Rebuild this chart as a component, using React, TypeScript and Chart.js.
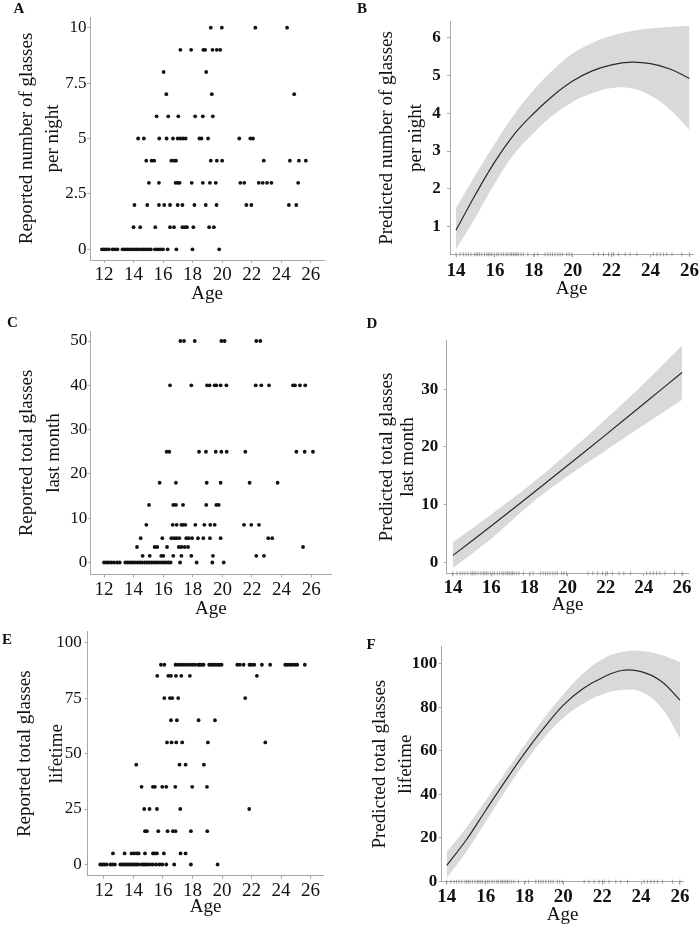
import React, { useEffect, useRef } from 'react';
import { Chart, registerables } from 'chart.js';
Chart.register(...registerables);

const FONT = "'Liberation Serif', 'Times New Roman', serif";
const INK = '#111111';
const AXIS = '#a8a8a8';
const BAND = '#d9d9d9';

// ---------- Panel A: reported glasses per night ----------
const A_LEVELS = [0, 1, 2, 3, 4, 5, 6, 7, 8, 9, 10];
const A_AGES = [
  [11.86, 12.0, 12.16, 12.32, 12.57, 12.73, 12.91, 13.25, 13.41, 13.56, 13.72, 13.88, 14.04, 14.2, 14.36, 14.54, 14.7, 14.86, 15.02, 15.17, 15.45, 15.63, 15.81, 15.99, 16.31, 16.9, 17.99, 19.8],
  [14.0, 14.45, 15.47, 16.47, 16.74, 17.31, 17.49, 17.62, 18.05, 19.12, 19.44],
  [14.06, 14.93, 15.72, 16.08, 16.47, 16.99, 17.31, 18.12, 18.89, 19.62, 21.64, 21.98, 24.52, 25.02],
  [15.04, 15.72, 16.85, 16.99, 17.12, 17.94, 18.69, 19.17, 19.57, 21.23, 21.5, 22.48, 22.75, 23.04, 23.34, 25.15],
  [14.86, 15.22, 15.4, 16.56, 16.74, 16.88, 19.23, 19.64, 20.0, 22.82, 24.59, 25.2, 25.67],
  [14.31, 14.7, 15.74, 16.24, 16.67, 16.99, 17.17, 17.35, 17.53, 18.46, 18.6, 19.05, 21.16, 21.91, 22.09],
  [15.56, 16.35, 17.03, 18.17, 18.69, 19.37],
  [16.22, 19.3, 24.88],
  [16.04, 18.92],
  [17.17, 17.9, 18.73, 18.85, 19.35, 19.64, 19.87],
  [19.23, 19.98, 22.25, 24.4],
];

// ---------- Panel C: reported total glasses last month ----------
const C_LEVELS = [0, 1.5, 3.5, 5.5, 8.5, 13, 18, 25, 40, 50];
const C_AGES = [
  [12.0, 12.16, 12.32, 12.5, 12.68, 12.88, 13.06, 13.44, 13.6, 13.76, 13.91, 14.07, 14.25, 14.41, 14.57, 14.75, 14.91, 15.06, 15.22, 15.38, 15.54, 15.69, 15.87, 16.03, 16.19, 16.35, 16.5, 17.14, 18.26, 19.32, 20.09],
  [14.61, 15.09, 15.87, 16.01, 16.68, 17.23, 17.9, 19.36, 22.29, 22.81],
  [14.23, 15.42, 15.6, 16.26, 17.05, 17.23, 17.45, 17.68, 25.45],
  [14.48, 15.94, 16.55, 16.73, 16.89, 17.09, 17.56, 17.72, 17.95, 18.35, 18.71, 19.16, 19.88, 23.1, 23.37],
  [14.86, 16.64, 16.91, 17.23, 17.34, 17.5, 18.17, 18.78, 19.18, 19.48, 21.46, 21.95, 22.47],
  [15.04, 16.68, 16.86, 17.34, 18.91, 19.59, 19.75],
  [15.76, 16.86, 18.94, 19.88, 21.84, 23.73],
  [16.23, 16.41, 18.42, 18.89, 19.55, 19.93, 20.29, 21.55, 25.0, 25.56, 26.12],
  [16.46, 17.9, 18.96, 19.14, 19.48, 19.59, 19.88, 20.27, 22.25, 22.63, 23.15, 24.77, 24.91, 25.24, 25.6],
  [17.16, 17.41, 18.13, 19.93, 20.15, 22.29, 22.56],
];

// ---------- Panel E: reported total glasses lifetime ----------
const E_LEVELS = [0, 5, 15, 25, 35, 45, 55, 65, 75, 85, 90];
const E_AGES = [
  [11.75, 11.89, 12.02, 12.18, 12.43, 12.56, 12.74, 13.11, 13.24, 13.38, 13.51, 13.65, 13.78, 13.92, 14.05, 14.19, 14.33, 14.55, 14.69, 14.82, 14.96, 15.14, 15.32, 15.54, 15.77, 15.95, 16.22, 16.76, 17.89, 19.7],
  [12.61, 13.4, 13.87, 14.05, 14.23, 14.35, 14.78, 15.32, 15.45, 15.59, 16.06, 17.19, 17.53],
  [14.78, 14.91, 15.68, 16.31, 16.67, 16.85, 17.89, 19.0],
  [14.73, 15.09, 15.59, 17.17, 21.84],
  [14.55, 15.32, 15.45, 15.95, 16.22, 16.83, 17.98, 18.98],
  [14.19, 17.12, 17.53, 18.77],
  [16.27, 16.58, 16.9, 17.3, 19.04, 22.93],
  [16.54, 16.94, 18.41, 19.52],
  [16.09, 16.47, 16.63, 17.03, 21.57],
  [15.61, 16.36, 16.54, 16.88, 17.24, 17.82, 22.36],
  [15.86, 16.09, 16.85, 17.03, 17.21, 17.4, 17.58, 17.78, 17.98, 18.16, 18.37, 18.48, 18.61, 18.75, 19.13, 19.27, 19.4, 19.56, 19.7, 19.83, 19.97, 21.03, 21.21, 21.46, 21.86, 22.0, 22.18, 22.7, 23.26, 24.28, 24.44, 24.6, 24.75, 24.93, 25.09, 25.61],
];

// ---------- Rug of observed ages (B, D, F) ----------
const RUG_AGES = [14.0, 14.21, 14.38, 14.51, 14.63, 14.77, 14.94, 15.03, 15.11, 15.2, 15.32, 15.46, 15.58, 15.66, 15.75, 15.84, 15.97, 16.09, 16.18, 16.32, 16.44, 16.57, 16.66, 16.78, 16.86, 16.95, 17.04, 17.12, 17.21, 17.34, 17.46, 17.69, 18.03, 18.2, 18.58, 18.72, 18.84, 18.96, 19.09, 19.23, 19.35, 19.47, 19.69, 19.81, 19.95, 21.07, 21.32, 21.58, 21.84, 22.01, 22.1, 22.35, 22.7, 22.95, 23.3, 24.15, 24.33, 24.5, 24.67, 24.84, 25.1, 25.61, 26.0];

// ---------- Panel B: predicted glasses per night ----------
const B_AGE = [14, 15, 16, 17, 18, 19, 20, 21, 22, 23, 24, 25, 26];
const B_FIT = [0.91, 1.85, 2.72, 3.45, 4.0, 4.47, 4.85, 5.12, 5.28, 5.35, 5.31, 5.17, 4.92];
const B_UP = [1.49, 2.37, 3.2, 3.97, 4.62, 5.15, 5.58, 5.86, 6.05, 6.17, 6.24, 6.28, 6.31];
const B_LO = [0.4, 1.25, 2.15, 2.93, 3.48, 3.95, 4.3, 4.53, 4.67, 4.66, 4.47, 4.1, 3.56];

// ---------- Panel D: predicted total glasses last month ----------
const D_AGE = [14, 16, 18, 20, 22, 24, 26];
const D_FIT = [1.2, 6.3, 11.5, 16.8, 22.1, 27.5, 32.9];
const D_UP = [3.5, 8.3, 13.3, 18.9, 24.8, 31.0, 37.6];
const D_LO = [-1.0, 4.1, 9.9, 14.9, 19.4, 23.8, 28.2];

// ---------- Panel F: predicted total glasses lifetime ----------
const F_AGE = [14, 15, 16, 17, 18, 19, 20, 21, 22, 23, 24, 25, 26];
const F_FIT = [7.3, 19.0, 32.6, 46.0, 58.9, 70.6, 81.1, 88.6, 93.7, 97.0, 96.5, 92.3, 83.4];
const F_UP = [13.5, 24.6, 37.2, 50.0, 62.6, 75.0, 86.0, 95.5, 102.2, 105.5, 106.0, 104.3, 100.9];
const F_LO = [1.5, 13.5, 27.3, 41.3, 54.3, 66.0, 75.2, 81.6, 86.0, 88.0, 87.2, 80.3, 66.0];

const X_TICKS_RAW = [12, 14, 16, 18, 20, 22, 24, 26];
const X_TICKS_PRED = [14, 16, 18, 20, 22, 24, 26];

function scatterSets(levels: number[], ages: number[][]) {
  const data: { x: number; y: number }[] = [];
  levels.forEach((lv, i) => ages[i].forEach((a) => data.push({ x: a, y: lv })));
  return [
    {
      type: 'scatter',
      data,
      pointRadius: 1.9,
      pointBackgroundColor: INK,
      pointBorderWidth: 0,
      clip: false,
    },
  ];
}

function fitSets(ages: number[], fit: number[], up: number[], lo: number[], yMin: number) {
  const pts = (vals: number[]) => ages.map((a, i) => ({ x: a, y: vals[i] }));
  return [
    {
      type: 'line',
      data: pts(fit),
      borderColor: '#2a2a2a',
      borderWidth: 1.2,
      pointRadius: 0,
      tension: 0.4,
      fill: false,
    },
    {
      type: 'scatter',
      data: RUG_AGES.map((a) => ({ x: a, y: yMin })),
      pointStyle: 'line',
      rotation: 90,
      pointRadius: 2,
      pointBorderColor: '#8a8a8a',
      pointBorderWidth: 0.8,
      clip: false,
    },
    {
      type: 'line',
      data: pts(up),
      borderWidth: 0,
      borderColor: 'rgba(0,0,0,0)',
      backgroundColor: BAND,
      pointRadius: 0,
      tension: 0.4,
      fill: '+1',
    },
    {
      type: 'line',
      data: pts(lo),
      borderWidth: 0,
      borderColor: 'rgba(0,0,0,0)',
      pointRadius: 0,
      tension: 0.4,
      fill: false,
    },
  ];
}

type Spec = {
  left: number; top: number; W: number; H: number;
  yW: number; padTop: number; padRight: number; xH: number;
  xMin: number; xMax: number; xTicks: number[];
  yMin: number; yMax: number; yTicks: number[];
  yTitle: string[]; yLH: number; yTitlePad: number;
  xTitlePad: number; yTickPad: number; xTickPad: number;
  bold: boolean; datasets: any[];
};

function buildConfig(s: Spec): any {
  const tickFont = { family: FONT, size: 17, weight: s.bold ? 'bold' : 'normal' };
  const xTickFont = { family: FONT, size: 19, weight: s.bold ? 'bold' : 'normal' };
  return {
    type: 'scatter',
    data: { datasets: s.datasets },
    options: {
      animation: false,
      responsive: false,
      events: [],
      layout: { padding: { left: 0, top: s.padTop, right: s.padRight, bottom: 0 } },
      plugins: { legend: { display: false }, tooltip: { enabled: false } },
      scales: {
        x: {
          type: 'linear',
          min: s.xMin,
          max: s.xMax,
          afterBuildTicks: (sc: any) => { sc.ticks = s.xTicks.map((v) => ({ value: v })); },
          afterFit: (sc: any) => { sc.height = s.xH; sc.paddingLeft = 0; sc.paddingRight = 0; },
          ticks: { autoSkip: false, maxRotation: 0, minRotation: 0, padding: s.xTickPad, color: INK, font: xTickFont, callback: (v: any) => String(v) },
          grid: { display: true, drawOnChartArea: false, drawTicks: true, tickLength: 3, color: AXIS },
          border: { display: true, color: AXIS, width: 1 },
          title: { display: true, text: 'Age', color: INK, font: { family: FONT, size: 19, lineHeight: '20px' }, padding: { top: 0, bottom: s.xTitlePad } },
        },
        y: {
          type: 'linear',
          min: s.yMin,
          max: s.yMax,
          afterBuildTicks: (sc: any) => { sc.ticks = s.yTicks.map((v) => ({ value: v })); },
          afterFit: (sc: any) => { sc.width = s.yW; sc.paddingTop = 0; sc.paddingBottom = 0; },
          ticks: { padding: s.yTickPad, color: INK, font: tickFont, callback: (v: any) => String(v) },
          grid: { display: true, drawOnChartArea: false, drawTicks: true, tickLength: 3, color: AXIS },
          border: { display: true, color: AXIS, width: 1 },
          title: { display: true, text: s.yTitle, color: INK, font: { family: FONT, size: 19, lineHeight: s.yLH + 'px' }, padding: { top: s.yTitlePad, bottom: 0 } },
        },
      },
    },
  };
}

const PANELS: Spec[] = [
  {
    left: 0, top: 0, W: 350, H: 310, yW: 90, padTop: 17, padRight: 26, xH: 50,
    xMin: 11.05, xMax: 26.9, xTicks: X_TICKS_RAW, yMin: -0.48, yMax: 10.48, yTicks: [0, 2.5, 5, 7.5, 10],
    yTitle: ['Reported number of glasses', 'per night'], yLH: 26, yTitlePad: 14, xTitlePad: 6, yTickPad: 0.5, xTickPad: 1,
    bold: false, datasets: scatterSets(A_LEVELS, A_AGES),
  },
  {
    left: 350, top: 0, W: 350, H: 310, yW: 100, padTop: 21.7, padRight: 6.7, xH: 55.7,
    xMin: 13.69, xMax: 26.2, xTicks: X_TICKS_PRED, yMin: 0.27, yMax: 6.42, yTicks: [1, 2, 3, 4, 5, 6],
    yTitle: ['Predicted number of glasses', 'per night'], yLH: 29, yTitlePad: 22.5, xTitlePad: 11, yTickPad: 6.3, xTickPad: 2.5,
    bold: true, datasets: fitSets(B_AGE, B_FIT, B_UP, B_LO, 0.27),
  },
  {
    left: 0, top: 310, W: 350, H: 310, yW: 90.7, padTop: 21.7, padRight: 19, xH: 45.7,
    xMin: 11.1, xMax: 27.34, xTicks: X_TICKS_RAW, yMin: -2.66, yMax: 52.1, yTicks: [0, 10, 20, 30, 40, 50],
    yTitle: ['Reported total glasses', 'last month'], yLH: 27, yTitlePad: 13.2, xTitlePad: 1.3, yTickPad: 0.4, xTickPad: 1,
    bold: false, datasets: scatterSets(C_LEVELS, C_AGES),
  },
  {
    left: 350, top: 310, W: 350, H: 310, yW: 96.7, padTop: 30.7, padRight: 11.7, xH: 46.7,
    xMin: 13.67, xMax: 26.33, xTicks: X_TICKS_PRED, yMin: -1.91, yMax: 38.43, yTicks: [0, 10, 20, 30],
    yTitle: ['Predicted total glasses', 'last month'], yLH: 21, yTitlePad: 26.2, xTitlePad: 4.7, yTickPad: 5.4, xTickPad: 0,
    bold: true, datasets: fitSets(D_AGE, D_FIT, D_UP, D_LO, -1.91),
  },
  {
    left: 0, top: 620, W: 350, H: 309, yW: 87.7, padTop: 11.7, padRight: 26.7, xH: 53.3,
    xMin: 10.9, xMax: 26.86, xTicks: X_TICKS_RAW, yMin: -5.05, yMax: 104.9, yTicks: [0, 25, 50, 75, 100],
    yTitle: ['Reported total glasses', 'lifetime'], yLH: 32, yTitlePad: 9, xTitlePad: 12, yTickPad: 3, xTickPad: 1,
    bold: false, datasets: scatterSets(E_LEVELS, E_AGES),
  },
  {
    left: 350, top: 620, W: 350, H: 309, yW: 91.7, padTop: 26.7, padRight: 16.7, xH: 47.3,
    xMin: 13.74, xMax: 26.17, xTicks: X_TICKS_PRED, yMin: -0.18, yMax: 107.96, yTicks: [0, 20, 40, 60, 80, 100],
    yTitle: ['Predicted total glasses', 'lifetime'], yLH: 26, yTitlePad: 17, xTitlePad: 3.7, yTickPad: 1.4, xTickPad: 0.5,
    bold: true, datasets: fitSets(F_AGE, F_FIT, F_UP, F_LO, -0.18),
  },
];

const LETTERS = [
  { t: 'A', x: 19, y: 8 },
  { t: 'B', x: 362, y: 8 },
  { t: 'C', x: 12.5, y: 321.5 },
  { t: 'D', x: 372, y: 323 },
  { t: 'E', x: 7, y: 639 },
  { t: 'F', x: 371, y: 644 },
];

function Panel({ spec }: { spec: Spec }) {
  const ref = useRef<HTMLCanvasElement | null>(null);
  useEffect(() => {
    if (!ref.current) return;
    const chart = new Chart(ref.current, buildConfig(spec));
    return () => chart.destroy();
  }, [spec]);
  return (
    <canvas
      ref={ref}
      width={spec.W}
      height={spec.H}
      style={{ position: 'absolute', left: spec.left, top: spec.top, width: spec.W, height: spec.H }}
    />
  );
}

export default function App() {
  return (
    <div style={{ position: 'absolute', left: 0, top: 0, width: 700, height: 929, background: '#fff', overflow: 'hidden' }}>
      {PANELS.map((p, i) => (
        <Panel key={i} spec={p} />
      ))}
      {LETTERS.map((l) => (
        <div
          key={l.t}
          style={{
            position: 'absolute', left: l.x, top: l.y, transform: 'translate(-50%, -50%)',
            fontFamily: FONT, fontWeight: 'bold', fontSize: 15, lineHeight: 1, color: INK,
          }}
        >
          {l.t}
        </div>
      ))}
    </div>
  );
}
